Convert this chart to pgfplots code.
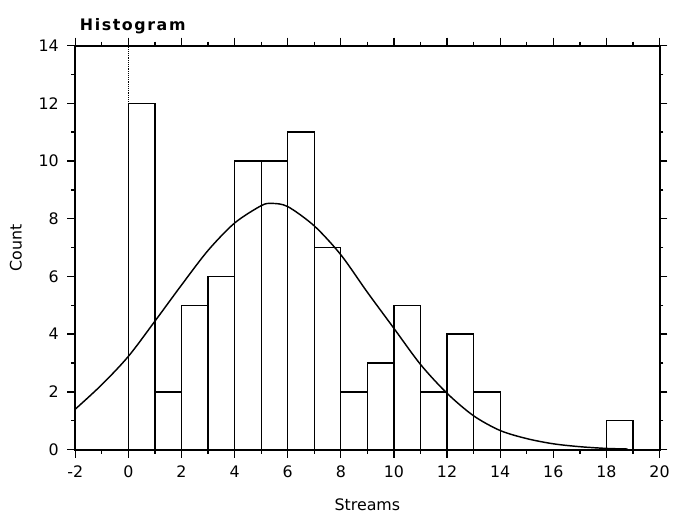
\documentclass[border=0pt]{standalone}
\usepackage{pgfplots}
\pgfplotsset{compat=1.18}
\usepackage{fontspec}
\setmainfont{DejaVu Sans}

\begin{document}
\begin{tikzpicture}
\begin{axis}[
    scale only axis,
    width=442.5pt, height=306pt,
    xmin=-2, xmax=20, ymin=0, ymax=14,
    xtick={-2,0,...,20}, ytick={0,2,...,14},
    minor xtick={-1,1,...,19}, minor ytick={1,3,...,13},
    tick align=outside,
    major tick length=6pt, minor tick length=3pt,
    tick style={line width=1pt, black},
    axis line style={line width=1.5pt},
    /pgf/number format/assume math mode=true,
    ticklabel style={font=\large},
    xticklabel style={yshift=-3pt},
    yticklabel style={xshift=-3pt},
    xlabel={Streams}, ylabel={Count},
    label style={font=\large},
    xlabel style={at={(axis description cs:0.5,0)}, anchor=center, yshift=-42pt},
    ylabel style={at={(axis description cs:0,0.5)}, anchor=center, yshift=45pt},
    title={\textbf{\large H\kern1.2pt i\kern1.2pt s\kern1.2pt t\kern1.2pt o\kern1.2pt g\kern1.2pt r\kern1.2pt a\kern1.2pt m}},
    title style={at={(axis description cs:0,1)}, anchor=west, yshift=9pt, xshift=0pt},
    clip=false,
]
% histogram counts, bins of width 1 from 0 to 19
\addplot[ybar interval, fill=white, draw=black, line width=1pt] coordinates {
    (0,12) (1,2) (2,5) (3,6) (4,10) (5,10) (6,11) (7,7) (8,2) (9,3)
    (10,5) (11,2) (12,4) (13,2) (14,0) (15,0) (16,0) (17,0) (18,1) (19,1)
};
% reference line at zero
\addplot[densely dotted, thin, black] coordinates {(0,12) (0,14)};
% fitted normal curve
\addplot[smooth, tension=0.5, black, line width=1.1pt] coordinates {
    (-2,1.40) (-1,2.25) (0,3.23) (1,4.45) (2,5.70) (3,6.90) (4,7.85)
    (5,8.45) (5.4,8.53) (6,8.42) (7,7.75) (8,6.75) (9,5.45) (10,4.20)
    (11,2.95) (12,1.95) (13,1.17) (14,0.66) (15,0.38) (16,0.20)
    (17,0.10) (18,0.04) (18.8,0.02)
};
\end{axis}
\useasboundingbox (-57pt,-46.5pt) rectangle (448.5pt,340.5pt);
\end{tikzpicture}
\end{document}
